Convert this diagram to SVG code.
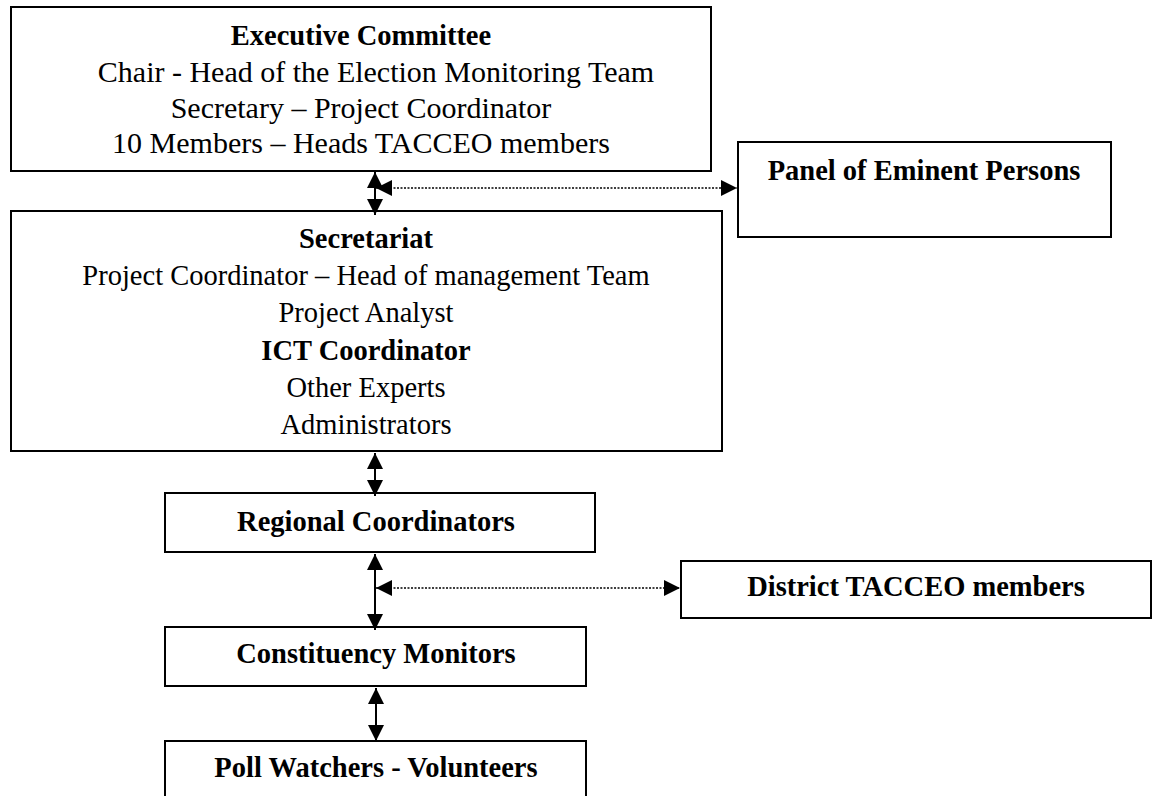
<svg xmlns="http://www.w3.org/2000/svg" width="1157" height="796" viewBox="0 0 1157 796">
  <defs>
    <marker id="head" markerUnits="userSpaceOnUse" markerWidth="16" markerHeight="16" viewBox="0 0 14 14" refX="14" refY="7" orient="auto-start-reverse">
      <path d="M0,0 L14,7 L0,14 Z" fill="#000"/>
    </marker>
  </defs>
  <style>
    .box { fill: #fff; stroke: #000; stroke-width: 2; }
    text { font-family: "Liberation Serif", "Times New Roman", serif; fill: #000; text-anchor: middle; }
    .b { font-weight: bold; font-size: 28.5px; }
    .r { font-size: 30px; }
    .r2 { font-size: 28.5px; }
    .solid { stroke: #000; stroke-width: 2; fill: none; marker-start: url(#head); marker-end: url(#head); }
    .dot { stroke: #000; stroke-width: 1.5; stroke-dasharray: 2 1.5; fill: none; marker-start: url(#head); marker-end: url(#head); }
  </style>
  <rect width="1157" height="796" fill="#fff"/>

  <g id="executive-committee">
    <rect class="box" x="11" y="7" width="700" height="164"/>
    <text class="b" x="361" y="45">Executive Committee</text>
    <text class="r" x="376" y="82">Chair - Head of the Election Monitoring Team</text>
    <text class="r" x="361" y="118">Secretary – Project Coordinator</text>
    <text class="r" x="361" y="153">10 Members – Heads TACCEO members</text>
  </g>

  <g id="panel-of-eminent-persons">
    <rect class="box" x="738" y="142" width="373" height="95"/>
    <text class="b" x="924" y="180">Panel of Eminent Persons</text>
  </g>

  <g id="secretariat">
    <rect class="box" x="11" y="211" width="711" height="240"/>
    <text class="b" x="366" y="248">Secretariat</text>
    <text class="r2" x="366" y="285">Project Coordinator – Head of management Team</text>
    <text class="r2" x="366" y="322">Project Analyst</text>
    <text class="b" x="366" y="360">ICT Coordinator</text>
    <text class="r2" x="366" y="397">Other Experts</text>
    <text class="r2" x="366" y="434">Administrators</text>
  </g>

  <g id="regional-coordinators">
    <rect class="box" x="165" y="493" width="430" height="59"/>
    <text class="b" x="376" y="531">Regional Coordinators</text>
  </g>

  <g id="district-tacceo-members">
    <rect class="box" x="681" y="561" width="470" height="57"/>
    <text class="b" x="916" y="596">District TACCEO members</text>
  </g>

  <g id="constituency-monitors">
    <rect class="box" x="165" y="627" width="421" height="59"/>
    <text class="b" x="376" y="663">Constituency Monitors</text>
  </g>

  <g id="poll-watchers">
    <rect class="box" x="165" y="741" width="421" height="70"/>
    <text class="b" x="376" y="777">Poll Watchers - Volunteers</text>
  </g>

  <g id="connectors">
    <line class="solid" x1="375" y1="172" x2="375" y2="215"/>
    <line class="dot" x1="376" y1="188" x2="737" y2="188"/>
    <line class="solid" x1="375" y1="453" x2="375" y2="496"/>
    <line class="solid" x1="375" y1="554" x2="375" y2="630"/>
    <line class="dot" x1="376" y1="588" x2="680" y2="588"/>
    <line class="solid" x1="376" y1="688" x2="376" y2="741"/>
  </g>
</svg>
